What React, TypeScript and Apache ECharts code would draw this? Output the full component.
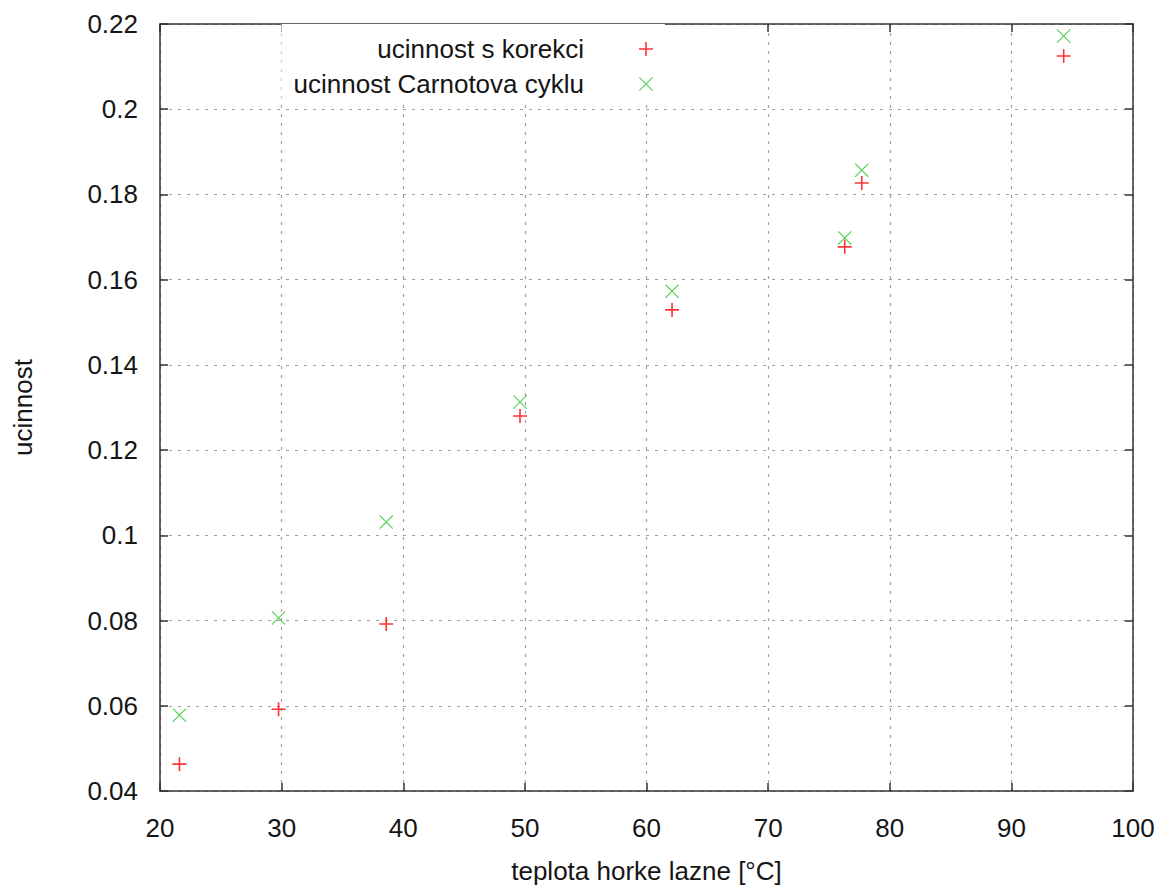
import React, { useEffect, useRef } from "react";
import * as echarts from "echarts";

const temps = [21.6, 29.75, 38.6, 49.6, 62.1, 76.3, 77.7, 94.3];
const corrected = [0.0463, 0.0592, 0.0792, 0.128, 0.1529, 0.1677, 0.1827, 0.2125];
const carnot = [0.0578, 0.0806, 0.1031, 0.1313, 0.1573, 0.1698, 0.1857, 0.2172];
const seriesNames = ["ucinnost s korekci", "ucinnost Carnotova cyklu"];
const xName = "teplota horke lazne [°C]";
const yName = "ucinnost";

const PLUS = "path://M6.2,0H7.8V6.2H14V7.8H7.8V14H6.2V7.8H0V6.2H6.2Z";
const CROSS =
  "path://M0,0.8L0.8,0L7,6.2L13.2,0L14,0.8L7.8,7L14,13.2L13.2,14L7,7.8L0.8,14L0,13.2L6.2,7Z";

export default function App() {
  const ref = useRef<HTMLDivElement>(null);
  useEffect(() => {
    if (!ref.current) return;
    const chart = echarts.init(ref.current, null, { renderer: "svg" });
    const font = "'Liberation Sans', Arial, sans-serif";
    const fs = 26;
    const txt = "#151515";
    const grid = { type: [3, 6], color: "#a0a0a0", width: 1.2 };
    chart.setOption({
      animation: false,
      backgroundColor: "#fff",
      textStyle: { fontFamily: font },
      grid: { left: 160, right: 32, top: 24, bottom: 102, containLabel: false, outerBoundsMode: "none" },
      legend: {
        orient: "vertical",
        align: "right",
        right: 500,
        top: 24,
        padding: [12, 12, 2, 12],
        itemGap: 9,
        itemWidth: 14,
        itemHeight: 14,
        backgroundColor: "#fff",
        textStyle: { fontSize: fs, lineHeight: 26, color: txt, fontFamily: font, padding: [0, 50, 0, 0] },
        data: [
          { name: seriesNames[0], icon: PLUS },
          { name: seriesNames[1], icon: CROSS },
        ],
      },
      xAxis: [
        {
          type: "value",
          min: 20,
          max: 100,
          interval: 10,
          name: xName,
          nameLocation: "middle",
          nameGap: 67,
          nameTextStyle: { fontSize: fs, color: txt },
          axisLine: { lineStyle: { color: "#333", width: 1.5 } },
          axisTick: { inside: true, length: 8, lineStyle: { color: "#333", width: 1.5 } },
          axisLabel: { fontSize: fs, color: txt, margin: 24 },
          splitLine: { show: true, lineStyle: grid },
        },
        {
          type: "value",
          position: "top",
          min: 20,
          max: 100,
          interval: 10,
          axisLine: { show: true, lineStyle: { color: "#333", width: 1.5 } },
          axisTick: { show: true, inside: true, length: 8, lineStyle: { color: "#333", width: 1.5 } },
          axisLabel: { show: false },
          splitLine: { show: false },
        },
      ],
      yAxis: [
        {
          type: "value",
          min: 0.04,
          max: 0.22,
          interval: 0.02,
          name: yName,
          nameLocation: "middle",
          nameGap: 124,
          nameTextStyle: { fontSize: fs, color: txt },
          axisLine: { show: true, lineStyle: { color: "#333", width: 1.5 } },
          axisTick: { show: true, inside: true, length: 8, lineStyle: { color: "#333", width: 1.5 } },
          axisLabel: {
            fontSize: fs,
            color: txt,
            margin: 22,
            formatter: (v: number) => String(parseFloat(v.toFixed(2))),
          },
          splitLine: { show: true, lineStyle: grid },
        },
        {
          type: "value",
          position: "right",
          min: 0.04,
          max: 0.22,
          interval: 0.02,
          axisLine: { show: true, lineStyle: { color: "#333", width: 1.5 } },
          axisTick: { show: true, inside: true, length: 8, lineStyle: { color: "#333", width: 1.5 } },
          axisLabel: { show: false },
          splitLine: { show: false },
        },
      ],
      series: [
        {
          name: seriesNames[0],
          type: "scatter",
          symbol: PLUS,
          symbolSize: 14,
          itemStyle: { color: "#ff0000" },
          data: temps.map((t, i) => [t, corrected[i]]),
        },
        {
          name: seriesNames[1],
          type: "scatter",
          symbol: CROSS,
          symbolSize: 14,
          itemStyle: { color: "#2ec42e" },
          data: temps.map((t, i) => [t, carnot[i]]),
        },
      ],
    });
    return () => chart.dispose();
  }, []);
  return <div ref={ref} style={{ width: 1165, height: 893, margin: -8 }} />;
}
